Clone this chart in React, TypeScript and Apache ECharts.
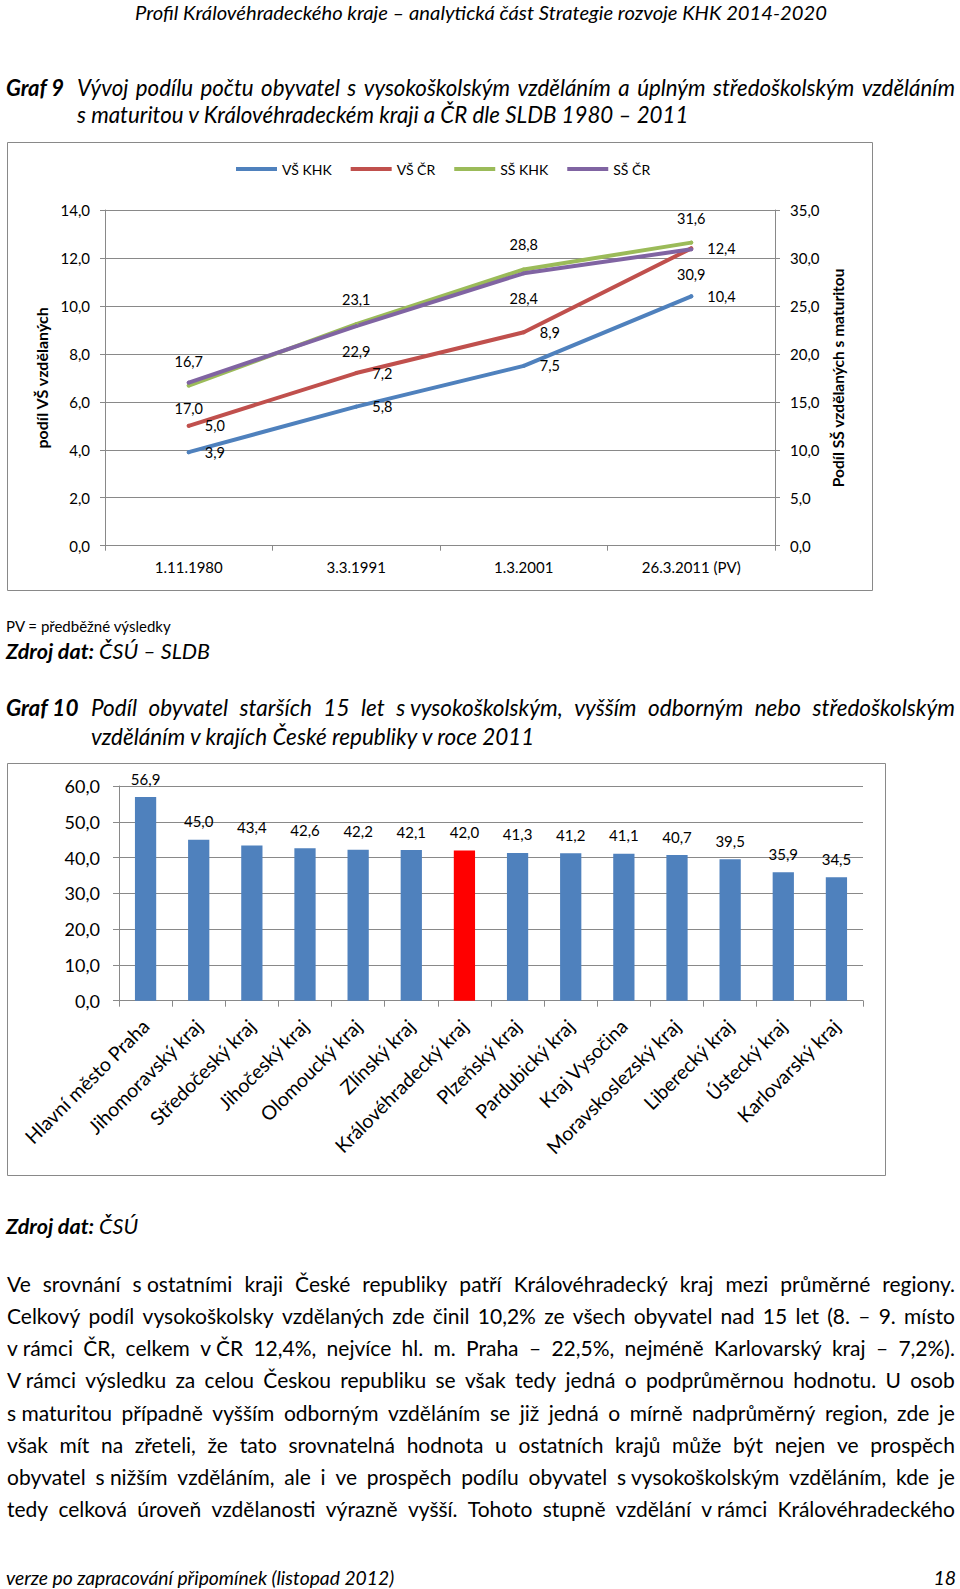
import React, { useEffect, useRef } from "react";
import * as echarts from "echarts";

// ---------- data ----------
const censusDates = ["1.11.1980", "3.3.1991", "1.3.2001", "26.3.2011 (PV)"];
const vsKHK = [3.9, 5.8, 7.5, 10.4];
const vsCR = [5.0, 7.2, 8.9, 12.4];
const ssKHK = [16.7, 23.1, 28.8, 31.6];
const ssCR = [17.0, 22.9, 28.4, 30.9];
const seriesNames = ["VŠ KHK", "VŠ ČR", "SŠ KHK", "SŠ ČR"];

const regions = [
  "Hlavní město Praha",
  "Jihomoravský kraj",
  "Středočeský kraj",
  "Jihočeský kraj",
  "Olomoucký kraj",
  "Zlínský kraj",
  "Královéhradecký kraj",
  "Plzeňský kraj",
  "Pardubický kraj",
  "Kraj Vysočina",
  "Moravskoslezský kraj",
  "Liberecký kraj",
  "Ústecký kraj",
  "Karlovarský kraj",
];
const regionShares = [56.9, 45.0, 43.4, 42.6, 42.2, 42.1, 42.0, 41.3, 41.2, 41.1, 40.7, 39.5, 35.9, 34.5];
const highlightedRegion = "Královéhradecký kraj";

const headerText = "Profil Královéhradeckého kraje – analytická část Strategie rozvoje KHK 2014-2020";
const graf9Line1 = "Vývoj podílu počtu obyvatel s vysokoškolským vzděláním a úplným středoškolským vzděláním";
const graf9Line2 = "s maturitou v Královéhradeckém kraji a ČR dle SLDB 1980 – 2011";
const graf10Line1 = "Podíl obyvatel starších 15 let s\u00A0vysokoškolským, vyšším odborným nebo středoškolským";
const graf10Line2 = "vzděláním v krajích České republiky v roce 2011";
const bodyLines = [
  "Ve srovnání s\u00A0ostatními kraji České republiky patří Královéhradecký kraj mezi průměrné regiony.",
  "Celkový podíl vysokoškolsky vzdělaných zde činil 10,2% ze všech obyvatel nad 15 let (8. – 9. místo",
  "v\u00A0rámci ČR, celkem v\u00A0ČR 12,4%, nejvíce hl. m. Praha – 22,5%, nejméně Karlovarský kraj – 7,2%).",
  "V\u00A0rámci výsledku za celou Českou republiku se však tedy jedná o podprůměrnou hodnotu. U osob",
  "s\u00A0maturitou případně vyšším odborným vzděláním se již jedná o mírně nadprůměrný region, zde je",
  "však mít na zřeteli, že tato srovnatelná hodnota u ostatních krajů může být nejen ve prospěch",
  "obyvatel s\u00A0nižším vzděláním, ale i ve prospěch podílu obyvatel s\u00A0vysokoškolským vzděláním, kde je",
  "tedy celková úroveň vzdělanosti výrazně vyšší. Tohoto stupně vzdělání v\u00A0rámci Královéhradeckého",
];

const FONT = "Lato, 'Open Sans', sans-serif";
const GRAY = "#898989";
const fmt = (v: number) => v.toFixed(1).replace(".", ",");

// justified single line using flex
function JLine({ text, left, center, width, size, italic, weight }: any) {
  const words = text.split(" ");
  return (
    <div
      style={{
        position: "absolute",
        left,
        top: center - 14,
        width,
        height: 28,
        lineHeight: "28px",
        display: "flex",
        justifyContent: "space-between",
        fontSize: size,
        fontStyle: italic ? "italic" : "normal",
        fontWeight: weight || "normal",
        whiteSpace: "nowrap",
      }}
    >
      {words.map((w: string, i: number) => (
        <span key={i}>{w}</span>
      ))}
    </div>
  );
}

function Txt({ children, left, center, size, italic, weight, right, width, align }: any) {
  return (
    <div
      style={{
        position: "absolute",
        left,
        right,
        width,
        top: center - 14,
        height: 28,
        lineHeight: "28px",
        fontSize: size,
        fontStyle: italic ? "italic" : "normal",
        fontWeight: weight || "normal",
        whiteSpace: "nowrap",
        textAlign: align || "left",
      }}
    >
      {children}
    </div>
  );
}

export default function App() {
  const ref1 = useRef<HTMLDivElement>(null);
  const ref2 = useRef<HTMLDivElement>(null);

  useEffect(() => {
    const c1 = echarts.init(ref1.current!, undefined, { renderer: "svg" });
    const c2 = echarts.init(ref2.current!, undefined, { renderer: "svg" });

    const lineLabel = (pos: string, dist: number) => ({
      show: true,
      position: pos,
      distance: dist,
      color: "#000",
      fontSize: 14.5,
      fontFamily: FONT,
      formatter: (p: any) => fmt(p.value),
    });
    const colors = ["#4F81BD", "#C0504D", "#9BBB59", "#8064A2"];
    const mkLine = (i: number, data: number[], axis: number, pos: string, dist: number) => ({
      name: seriesNames[i],
      type: "line",
      yAxisIndex: axis,
      data,
      symbol: "circle",
      symbolSize: 4,
      itemStyle: { color: colors[i] },
      lineStyle: { color: colors[i], width: 4, cap: "round" },
      label: lineLabel(pos, dist),
    });

    c1.setOption({
      animation: false,
      textStyle: { fontFamily: FONT },
      graphic: [
        {
          type: "rect",
          shape: { x: 0.5, y: 0.5, width: 865, height: 448 },
          style: { fill: "none", stroke: GRAY, lineWidth: 1 },
          silent: true,
        },
      ],
      legend: {
        left: 224,
        top: 15,
        itemWidth: 41,
        itemHeight: 4,
        itemGap: 19,
        icon: "rect",
        data: seriesNames,
        textStyle: { fontSize: 14, color: "#000", fontFamily: FONT },
      },
      grid: { left: 98, top: 68, right: 99, bottom: 46.3, containLabel: false },
      xAxis: {
        type: "category",
        data: censusDates,
        axisLine: { lineStyle: { color: GRAY, width: 1 } },
        axisTick: { show: true, length: 5, lineStyle: { color: GRAY } },
        axisLabel: { fontSize: 15, color: "#000", margin: 14, fontFamily: FONT },
      },
      yAxis: [
        {
          type: "value",
          min: 0,
          max: 14,
          interval: 2,
          name: "podíl VŠ vzdělaných",
          nameLocation: "middle",
          nameGap: 50,
          nameTextStyle: { fontSize: 16, fontWeight: "bold", color: "#000", fontFamily: FONT },
          axisLine: { show: true, lineStyle: { color: GRAY } },
          axisTick: { show: true, length: 5, lineStyle: { color: GRAY } },
          splitLine: { show: true, lineStyle: { color: GRAY, width: 1 } },
          axisLabel: { fontSize: 15, color: "#000", margin: 15, formatter: fmt, fontFamily: FONT },
        },
        {
          type: "value",
          min: 0,
          max: 35,
          interval: 5,
          position: "right",
          name: "Podíl SŠ vzdělaných s maturitou",
          nameLocation: "middle",
          nameGap: 55,
          nameTextStyle: { fontSize: 15.5, fontWeight: "bold", color: "#000", fontFamily: FONT },
          axisLine: { show: true, lineStyle: { color: GRAY } },
          axisTick: { show: true, length: 5, lineStyle: { color: GRAY } },
          splitLine: { show: false },
          axisLabel: { fontSize: 15, color: "#000", margin: 15, formatter: fmt, fontFamily: FONT },
        },
      ],
      series: [
        mkLine(0, vsKHK, 0, "right", 14),
        mkLine(1, vsCR, 0, "right", 14),
        mkLine(2, ssKHK, 1, "top", 15),
        mkLine(3, ssCR, 1, "bottom", 16),
      ],
    });

    c2.setOption({
      animation: false,
      textStyle: { fontFamily: FONT },
      graphic: [
        {
          type: "rect",
          shape: { x: 0.5, y: 0.5, width: 878, height: 412 },
          style: { fill: "none", stroke: GRAY, lineWidth: 1 },
          silent: true,
        },
      ],
      grid: { left: 112, top: 23, right: 24, bottom: 176.3, containLabel: false },
      xAxis: {
        type: "category",
        data: regions,
        axisLine: { lineStyle: { color: GRAY } },
        axisTick: { show: true, length: 6, lineStyle: { color: GRAY } },
        axisLabel: { interval: 0, rotate: 45, fontSize: 19.5, color: "#000", margin: 22, fontFamily: FONT },
      },
      yAxis: {
        type: "value",
        min: 0,
        max: 60,
        interval: 10,
        axisLine: { show: true, lineStyle: { color: GRAY } },
        axisTick: { show: true, length: 6, lineStyle: { color: GRAY } },
        splitLine: { show: true, lineStyle: { color: GRAY } },
        axisLabel: { fontSize: 18, color: "#000", margin: 19, formatter: fmt, fontFamily: FONT },
      },
      series: [
        {
          type: "bar",
          barCategoryGap: "60%",
          data: regionShares.map((v, i) => ({
            value: v,
            itemStyle: { color: regions[i] === highlightedRegion ? "#FF0000" : "#4F81BD" },
          })),
          label: {
            show: true,
            position: "top",
            distance: 11,
            fontSize: 15,
            color: "#000",
            fontFamily: FONT,
            formatter: (p: any) => fmt(p.value),
          },
        },
      ],
    });

    return () => {
      c1.dispose();
      c2.dispose();
    };
  }, []);

  return (
    <div
      style={{
        position: "absolute",
        left: 0,
        top: 0,
        width: 960,
        height: 1589,
        background: "#fff",
        fontFamily: FONT,
        color: "#000",
        overflow: "hidden",
      }}
    >
      <Txt left={0} width={962} center={12} size={20.2} italic align="center">
        {headerText}
      </Txt>

      <Txt left={6} center={88} size={22} italic weight="bold">Graf 9</Txt>
      <JLine text={graf9Line1} left={77} center={88} width={878} size={22.3} italic />
      <Txt left={77} center={115} size={22.3} italic>{graf9Line2}</Txt>

      <div ref={ref1} style={{ position: "absolute", left: 7, top: 142, width: 867, height: 450 }} />

      <Txt left={6} center={626} size={15}>PV = předběžné výsledky</Txt>
      <Txt left={6} center={651} size={21.5} italic>
        <b>Zdroj dat:</b> ČSÚ – SLDB
      </Txt>

      <Txt left={6} center={708} size={22.5} italic weight="bold">Graf 10</Txt>
      <JLine text={graf10Line1} left={91} center={708} width={864} size={22.5} italic />
      <Txt left={91} center={737} size={22.5} italic>{graf10Line2}</Txt>

      <div ref={ref2} style={{ position: "absolute", left: 7, top: 763, width: 880, height: 414 }} />

      <Txt left={6} center={1226} size={21.5} italic>
        <b>Zdroj dat:</b> ČSÚ
      </Txt>

      {bodyLines.map((t, i) => (
        <JLine key={i} text={t} left={7} center={1284 + i * 32.15} width={948} size={21} />
      ))}

      <Txt left={6} center={1578} size={19.3} italic>verze po zapracování připomínek (listopad 2012)</Txt>
      <Txt right={4} width={100} center={1578} size={19.5} italic align="right">18</Txt>
    </div>
  );
}
